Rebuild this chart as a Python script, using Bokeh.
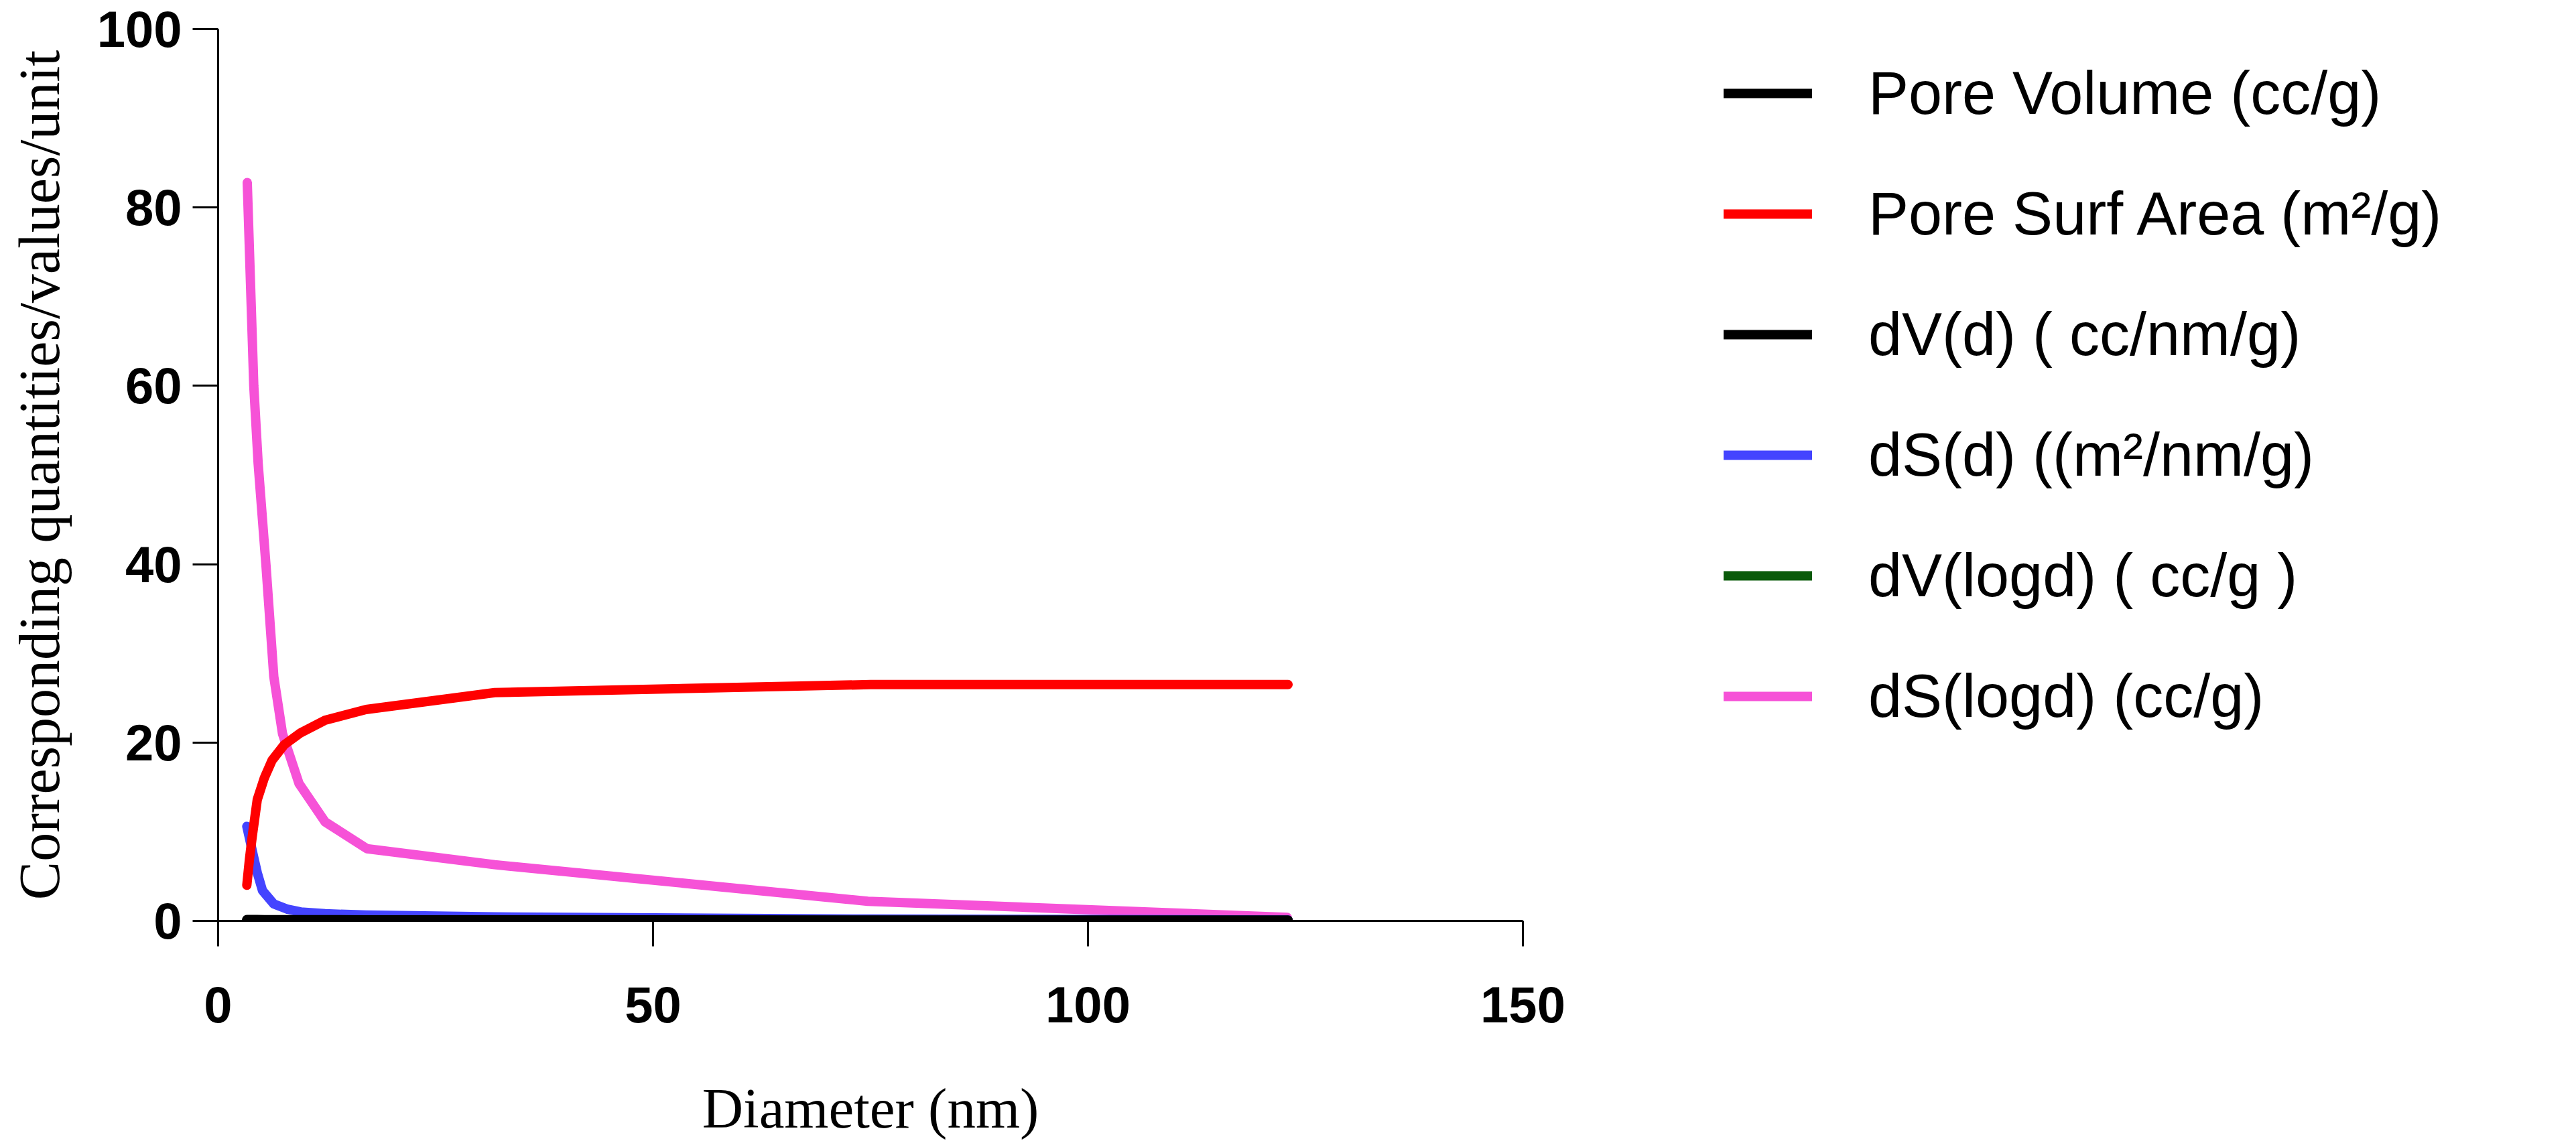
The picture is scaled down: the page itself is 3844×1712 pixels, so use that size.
from bokeh.plotting import figure
from bokeh.layouts import row
from bokeh.models import Range1d, FixedTicker, Legend, LegendItem
from bokeh.embed import file_html
from bokeh.resources import INLINE

# ---- data ----
diam = [3.3, 3.6, 3.9, 4.5, 5.3, 6.2, 7.6, 9.5, 12.3, 17.0, 31.8, 75.0, 123.0]
pore_volume = [0.15, 0.15, 0.15, 0.15, 0.14, 0.14, 0.14, 0.13, 0.13, 0.12, 0.11, 0.10, 0.10]
pore_surf_area = [4.0, 6.9, 9.3, 13.6, 16.0, 18.0, 19.75, 21.1, 22.5, 23.7, 25.6, 26.5, 26.5]
dv_d = [0.02, 0.02, 0.02, 0.01, 0.01, 0.01, 0.01, 0.0, 0.0, 0.0, 0.0, 0.0, 0.0]
dv_logd = [0.08, 0.09, 0.10, 0.10, 0.10, 0.11, 0.11, 0.11, 0.11, 0.10, 0.08, 0.05, 0.02]

diam_ds = [3.3, 4.1, 4.5, 5.1, 6.4, 8.0, 9.5, 12.3, 17.0, 31.8, 75.0, 123.0]
ds_d = [10.6, 7.1, 5.4, 3.4, 1.9, 1.3, 1.0, 0.8, 0.65, 0.45, 0.2, 0.1]

diam_dslog = [3.35, 4.1, 4.6, 5.5, 6.4, 7.4, 9.3, 12.3, 17.1, 31.8, 74.7, 122.9]
ds_logd = [82.8, 60.0, 51.3, 39.9, 27.4, 21.0, 15.4, 11.1, 8.1, 6.3, 2.2, 0.4]

x_ticks = [0, 50, 100, 150]
y_ticks = [0, 20, 40, 60, 80, 100]

labels = ["Pore Volume (cc/g)", "Pore Surf Area (m\u00b2/g)", "dV(d) ( cc/nm/g)",
          "dS(d) ((m\u00b2/nm/g)", "dV(logd) ( cc/g )", "dS(logd) (cc/g)"]
colors = ["#000000", "#FF0000", "#000000", "#4444FF", "#0A5A0A", "#F652D7"]

TOP, BOTTOM, FRAME_H, H = 43, 322, 1331, 1696

# ---- main figure ----
p = figure(width=2372, height=H, frame_width=1947, frame_height=FRAME_H,
           x_range=Range1d(0, 150), y_range=Range1d(0, 100),
           output_backend="svg", toolbar_location=None,
           min_border_left=325, min_border_right=100,
           min_border_top=TOP, min_border_bottom=BOTTOM)
p.outline_line_color = None
p.grid.visible = False
p.background_fill_color = "white"

LW = 14
common = dict(line_width=LW, line_cap="round", line_join="round")
r_dslog = p.line(diam_dslog, ds_logd, line_color=colors[5], **common)
r_dsd = p.line(diam_ds, ds_d, line_color=colors[3], **common)
r_dvlog = p.line(diam, dv_logd, line_color=colors[4], **common)
r_dvd = p.line(diam, dv_d, line_color=colors[2], **common)
r_pv = p.line(diam, pore_volume, line_color=colors[0], **common)
r_psa = p.line(diam, pore_surf_area, line_color=colors[1], **common)

for ax in (p.xaxis[0], p.yaxis[0]):
    ax.axis_line_width = 3
    ax.axis_line_color = "black"
    ax.major_tick_line_width = 3
    ax.major_tick_out = 38
    ax.major_tick_in = 0
    ax.minor_tick_out = 0
    ax.minor_tick_in = 0
    ax.major_label_text_font = "Liberation Sans"
    ax.major_label_text_font_style = "bold"
    ax.major_label_text_font_size = "76px"
    ax.major_label_text_color = "black"
    ax.axis_label_text_font = "Liberation Serif"
    ax.axis_label_text_font_style = "normal"
    ax.axis_label_text_color = "black"

p.xaxis.ticker = FixedTicker(ticks=x_ticks)
p.yaxis.ticker = FixedTicker(ticks=y_ticks)
p.xaxis.axis_label = "Diameter (nm)"
p.yaxis.axis_label = "Corresponding quantities/values/unit"
p.xaxis.axis_label_text_font_size = "85px"
p.yaxis.axis_label_text_font_size = "86px"
p.xaxis.major_label_standoff = 60
p.yaxis.major_label_standoff = 16
p.xaxis.axis_label_standoff = 78
p.yaxis.axis_label_standoff = 35

# ---- legend panel (separate figure to the right, same vertical borders) ----
LEG_MARGIN = 44
q = figure(width=1456, height=H, frame_width=1456 - (200 - LEG_MARGIN), frame_height=FRAME_H,
           x_range=Range1d(0, 1), y_range=Range1d(0, 1),
           x_axis_type=None, y_axis_type=None,
           output_backend="svg", toolbar_location=None,
           min_border_left=200 - LEG_MARGIN, min_border_right=0,
           min_border_top=TOP, min_border_bottom=BOTTOM)
q.outline_line_color = None
q.grid.visible = False

renderers = [r_pv, r_psa, r_dvd, r_dsd, r_dvlog, r_dslog]
nan = float("nan")
key_renderers = [q.line([nan], [nan], line_color=r.glyph.line_color, **common) for r in renderers]
items = [LegendItem(label=lab, renderers=[r]) for lab, r in zip(labels, key_renderers)]
legend = Legend(items=items, location="top_left", orientation="vertical",
                glyph_width=132, glyph_height=104, label_height=104,
                label_standoff=84, spacing=76, padding=0, margin=LEG_MARGIN,
                border_line_color=None, background_fill_alpha=0,
                label_text_font="Liberation Sans", label_text_font_size="90px",
                label_text_color="black")
q.add_layout(legend, "center")

layout = row(p, q, spacing=0)
open("out.html", "w").write(file_html(layout, INLINE))
